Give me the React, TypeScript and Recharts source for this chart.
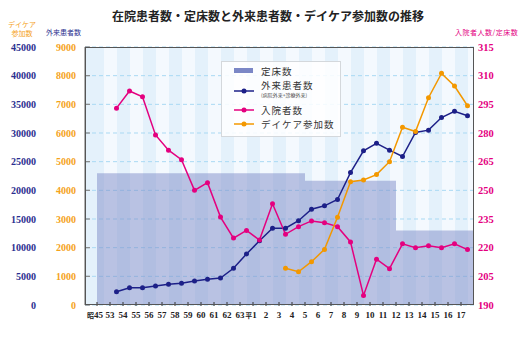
import React from "react"
import { ComposedChart, Bar, Line, XAxis, YAxis, CartesianGrid } from "recharts"

// 年度 (昭和45年, 53〜63年, 平成1〜17年)
const years = [
  "昭45", "53", "54", "55", "56", "57", "58", "59", "60", "61", "62", "63",
  "平1", "2", "3", "4", "5", "6", "7", "8", "9", "10", "11", "12", "13", "14", "15", "16", "17",
]

// 定床数 (right axis)
const beds = [
  259, 259, 259, 259, 259, 259, 259, 259, 259, 259, 259, 259, 259, 259, 259, 259,
  255, 255, 255, 255, 255, 255, 255,
  229, 229, 229, 229, 229, 229,
]

// 外来患者数 (left axis)
const outpatients = [
  null, 2300, 3000, 3000, 3300, 3600, 3800, 4200, 4500, 4700, 6400, 8900, 11200,
  13400, 13400, 14700, 16700, 17300, 18400, 23100, 26900, 28200, 27000, 25900,
  30100, 30500, 32700, 33800, 33000,
]

// 入院者数 (right axis)
const inpatients = [
  null, 293, 302, 299, 279, 271, 266, 250, 254, 236, 225, 229, 224, 243, 227, 231,
  234, 233, 231, 223, 195, 214, 209, 222, 220, 221, 220, 222, 219,
]

// デイケア参加数 (outer left axis)
const daycare = [
  null, null, null, null, null, null, null, null, null, null, null, null, null, null,
  1280, 1160, 1510, 1940, 3060, 4300, 4360, 4550, 5000, 6200, 6050, 7230, 8080, 7640, 6950,
]

const outTicks = [0, 5000, 10000, 15000, 20000, 25000, 30000, 35000, 40000, 45000]
const dcTicks = [0, 1000, 2000, 3000, 4000, 5000, 6000, 7000, 8000, 9000]
const inTicks = [190, 205, 220, 235, 250, 265, 280, 295, 310, 325]
// labels printed on the right axis (top one reads 315 in the original)
const inTickLabels = ["190", "205", "220", "235", "250", "265", "280", "295", "310", "315"]

const data = years.map((label, i) => ({
  label,
  beds: beds[i],
  outpatients: outpatients[i],
  inpatients: inpatients[i],
  daycare: daycare[i],
}))

const NAVY = "#1d2088"
const PINK = "#e4007f"
const ORANGE = "#f39800"
const NUM_FONT = "'Liberation Serif', serif"
const JP_FONT = "'Noto Sans CJK JP', sans-serif"

const XTick = ({ x, y, payload }: any) => {
  const v: string = payload.value
  const era = /^[昭平]/.test(v) ? v[0] : ""
  const num = era ? v.slice(1) : v
  return (
    <g>
      <line x1={x - 6.5} x2={x - 6.5} y1={y - 3} y2={y + 1} stroke="#333" strokeWidth={1} />
      <text
        x={x - 6.5 - (era ? 2 : 0)}
        y={y + 13}
        textAnchor="middle"
        fontSize={9}
        fontWeight="bold"
        fontFamily={NUM_FONT}
        fill="#222"
      >
        {era && <tspan fontSize={7} fontFamily={JP_FONT}>{era}</tspan>}
        {num}
      </text>
    </g>
  )
}

const OutTick = ({ x, y, payload }: any) => (
  <text x={x - 5} y={y + 3.5} textAnchor="end" fontSize={10} fontWeight="bold" fontFamily={NUM_FONT} fill="#2b2f8f">
    {payload.value}
  </text>
)

const DcTick = ({ x, y, payload }: any) => (
  <g>
    <line x1={x} x2={x + 5} y1={y} y2={y} stroke="#888" strokeWidth={1.2} />
    <text x={x - 9} y={y + 3.5} textAnchor="end" fontSize={10} fontWeight="bold" fontFamily={NUM_FONT} fill="#f5a21b">
      {payload.value}
    </text>
  </g>
)

const InTick = ({ x, y, payload }: any) => (
  <text x={x + 4} y={y + 3.5} textAnchor="start" fontSize={10.5} fontWeight="bold" fontFamily={NUM_FONT} fill={PINK}>
    {inTickLabels[inTicks.indexOf(payload.value)] ?? payload.value}
  </text>
)

function LegendBox() {
  const txt = { fontSize: 9.5, fontFamily: JP_FONT, fill: "#333", letterSpacing: 1 }
  return (
    <svg
      width={120}
      height={76}
      style={{ position: "absolute", left: 221, top: 61, background: "rgba(255,255,255,0.85)", border: "1px solid #d4d8dc", boxSizing: "border-box" }}
    >
      <rect x={12} y={6} width={19} height={5} fill="#7b87c6" />
      <text x={39} y={12.5} {...txt}>定床数</text>
      <line x1={12} x2={32} y1={29} y2={29} stroke={NAVY} strokeWidth={1.5} />
      <circle cx={22} cy={29} r={2.5} fill={NAVY} />
      <text x={39} y={26.5} {...txt}>外来患者数</text>
      <text x={39} y={35} fontSize={5} fontFamily={JP_FONT} fill="#444">(病院外来+診療外来)</text>
      <line x1={12} x2={32} y1={48} y2={48} stroke={PINK} strokeWidth={1.5} />
      <circle cx={22} cy={48} r={2.5} fill={PINK} />
      <text x={39} y={51.5} {...txt}>入院者数</text>
      <line x1={12} x2={32} y1={62} y2={62} stroke={ORANGE} strokeWidth={1.5} />
      <circle cx={22} cy={62} r={2.5} fill={ORANGE} />
      <text x={39} y={65.5} {...txt}>デイケア参加数</text>
    </svg>
  )
}

export default function App() {
  return (
    <div style={{ position: "absolute", left: 0, top: 0, width: 528, height: 341, background: "#fff", fontFamily: JP_FONT }}>
      <ComposedChart width={528} height={341} data={data} margin={{ top: 47, right: 4, bottom: 8, left: 0 }} barCategoryGap={0}>
        <CartesianGrid
          yAxisId="out"
          horizontal={false}
          vertical
          stroke="none"
          verticalFill={["#e4f1fb", "#f4f9fe"]}
          fillOpacity={1}
        />
        <CartesianGrid yAxisId="out" vertical={false} stroke="#a9d9f3" strokeDasharray="4 3" />
        <XAxis
          dataKey="label"
          interval={0}
          padding={{ left: 12, right: 0 }}
          height={28}
          tickSize={0}
          tickMargin={0}
          axisLine={false}
          tickLine={false}
          tick={<XTick />}
        />
        <YAxis
          yAxisId="dc"
          orientation="left"
          width={44}
          domain={[0, 9000]}
          ticks={dcTicks}
          tickSize={0}
          tickMargin={0}
          axisLine={{ stroke: "#999", strokeWidth: 1.5 }}
          tickLine={false}
          tick={<DcTick />}
        />
        <YAxis
          yAxisId="out"
          orientation="left"
          width={41}
          domain={[0, 45000]}
          ticks={outTicks}
          tickSize={0}
          tickMargin={0}
          axisLine={false}
          tickLine={false}
          tick={<OutTick />}
        />
        <YAxis
          yAxisId="in"
          orientation="right"
          width={50}
          domain={[190, 325]}
          ticks={inTicks}
          tickSize={0}
          tickMargin={0}
          axisLine={false}
          tickLine={false}
          tick={<InTick />}
        />
        <Bar yAxisId="in" dataKey="beds" fill="#7d8cc8" fillOpacity={0.5} isAnimationActive={false} />
        <Line
          yAxisId="out"
          dataKey="outpatients"
          stroke={NAVY}
          strokeWidth={1.5}
          dot={{ r: 2.5, fill: NAVY, stroke: NAVY, strokeWidth: 0 }}
          isAnimationActive={false}
        />
        <Line
          yAxisId="in"
          dataKey="inpatients"
          stroke={PINK}
          strokeWidth={1.5}
          dot={{ r: 2.5, fill: PINK, stroke: PINK, strokeWidth: 0 }}
          isAnimationActive={false}
        />
        <Line
          yAxisId="dc"
          dataKey="daycare"
          stroke={ORANGE}
          strokeWidth={1.5}
          dot={{ r: 2.5, fill: ORANGE, stroke: ORANGE, strokeWidth: 0 }}
          isAnimationActive={false}
        />
      </ComposedChart>

      <div style={{ position: "absolute", left: 85, top: 47, width: 389, height: 258, border: "1.5px solid #555", boxSizing: "border-box", pointerEvents: "none" }} />

      <div style={{ position: "absolute", left: 0, top: 7, width: 536, textAlign: "center", fontSize: 12, fontWeight: "bold", color: "#222" }}>
        在院患者数・定床数と外来患者数・デイケア参加数の推移
      </div>
      <div style={{ position: "absolute", left: 6, top: 20, width: 32, textAlign: "center", fontSize: 7, lineHeight: "9px", color: "#f5a21b" }}>
        デイケア<br />参加数
      </div>
      <div style={{ position: "absolute", left: 46, top: 27, fontSize: 7, color: "#2b2f8f" }}>外来患者数</div>
      <div style={{ position: "absolute", left: 455, top: 27, fontSize: 7, letterSpacing: 0.5, color: PINK }}>入院者人数/定床数</div>

      <LegendBox />
    </div>
  )
}
